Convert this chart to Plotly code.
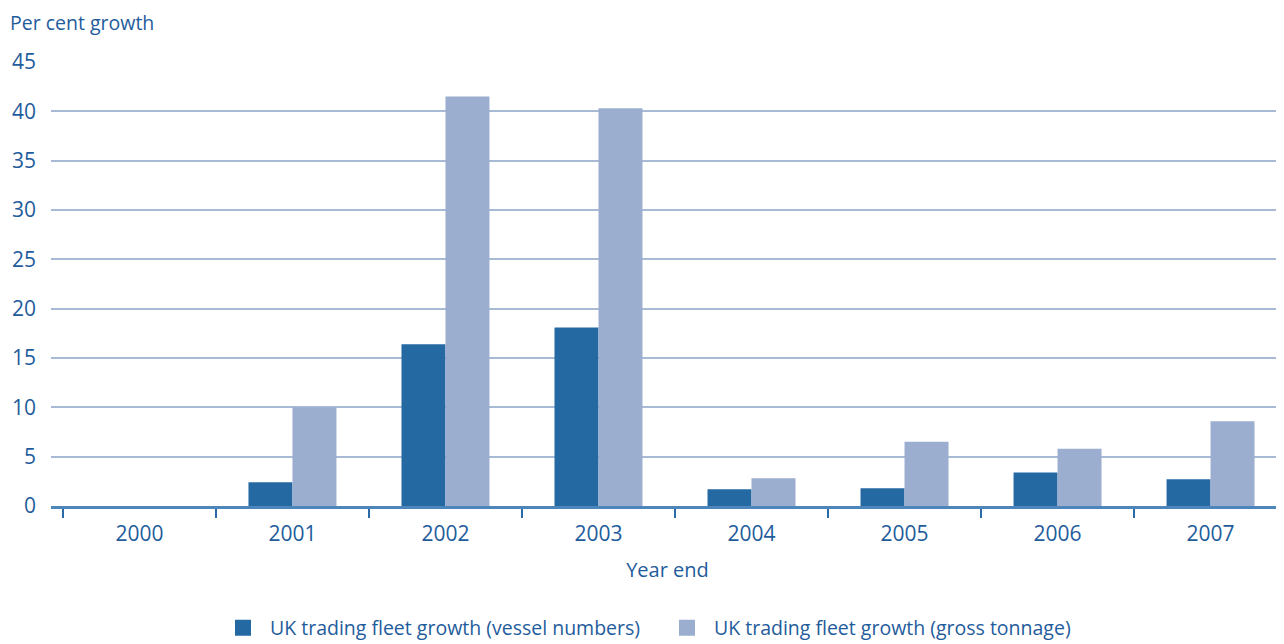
import plotly.graph_objects as go

years = ["2000", "2001", "2002", "2003", "2004", "2005", "2006", "2007"]
vessel_numbers = [0, 2.4, 16.4, 18.1, 1.7, 1.8, 3.4, 2.7]
gross_tonnage = [0, 10.0, 41.5, 40.3, 2.8, 6.5, 5.8, 8.6]
y_ticks = [0, 5, 10, 15, 20, 25, 30, 35, 40, 45]
series_names = ["UK trading fleet growth (vessel numbers)", "UK trading fleet growth (gross tonnage)"]
series_colors = ["#2569a3", "#9caecf"]

text_color = "#1f5c9c"
font_family = "Open Sans, Noto Sans, sans-serif"

fig = go.Figure()
for vals, name, col in zip([vessel_numbers, gross_tonnage], series_names, series_colors):
    fig.add_trace(go.Bar(x=years, y=vals, name=name, showlegend=False,
                         marker=dict(color=col, line=dict(width=0))))
# legend entries with large square swatches
for name, col in zip(series_names, series_colors):
    fig.add_trace(go.Scatter(x=[None], y=[None], mode="markers", name=name,
                             marker=dict(symbol="square", size=22, color=col)))

# page body has an 8px margin: figure origin at (8, 8)
W, H = 1276, 636
L, T, B, R = 43, 54, 138, 0
plot_w = W - L - R
plot_h = H - T - B

fig.update_layout(
    width=W, height=H,
    margin=dict(l=L, r=R, t=T, b=B, autoexpand=False),
    paper_bgcolor="white", plot_bgcolor="white",
    barmode="group", bargap=0.425, bargroupgap=0,
    font=dict(family=font_family, color=text_color, size=19),
    showlegend=True,
    legend=dict(orientation="h", x=(235 - 8 - L - 19) / plot_w, xanchor="left",
                y=(505 - 627) / plot_h, yanchor="middle",
                font=dict(size=19.5, color=text_color), traceorder="normal",
                entrywidth=385, entrywidthmode="pixels", itemwidth=44),
    xaxis=dict(type="category", range=[-0.578, 7.48], tickson="boundaries",
               ticks="outside", ticklen=9, tickwidth=2, tickcolor="#2a6aa6",
               showline=True, linecolor="#4d86ba", linewidth=2.5,
               showgrid=False, tickfont=dict(size=21, color=text_color), ticklabelstandoff=7,
               title=dict(text="Year end", font=dict(size=20, color=text_color), standoff=18)),
    yaxis=dict(range=[0, 45], tickvals=y_ticks, showgrid=True, gridcolor="#a9bad7", gridwidth=1.5,
               zeroline=False, showline=False, ticks="", ticklabelstandoff=14,
               tickfont=dict(size=21, color=text_color)),
    annotations=[dict(text="Per cent growth", xref="paper", yref="paper", x=-L / plot_w, y=1 + 39 / plot_h,
                      xanchor="left", yanchor="middle", showarrow=False,
                      font=dict(size=19.5, color=text_color))],
)

fig.write_html("out.html")
